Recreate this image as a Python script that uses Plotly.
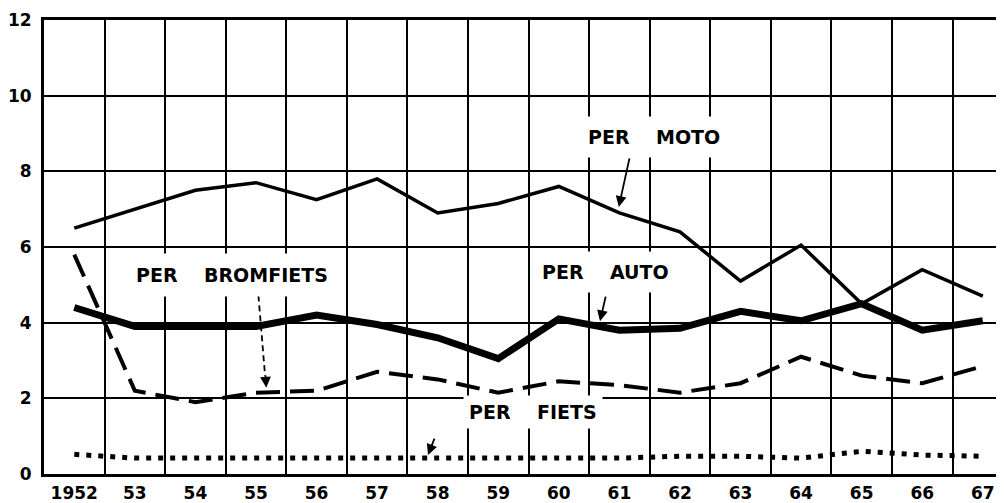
import plotly.graph_objects as go

years = list(range(1952, 1968))
year_labels = ["1952"] + [str(y)[2:] for y in years[1:]]
moto = [6.5, 7.0, 7.5, 7.7, 7.25, 7.8, 6.9, 7.15, 7.6, 6.9, 6.4, 5.1, 6.05, 4.5, 5.4, 4.7]
auto = [4.4, 3.9, 3.9, 3.9, 4.2, 3.95, 3.6, 3.05, 4.1, 3.8, 3.85, 4.3, 4.05, 4.5, 3.8, 4.05]
bromfiets = [5.8, 2.2, 1.9, 2.15, 2.2, 2.7, 2.5, 2.15, 2.45, 2.35, 2.15, 2.4, 3.1, 2.6, 2.4, 2.85]
fiets = [0.52, 0.42, 0.42, 0.42, 0.42, 0.42, 0.42, 0.42, 0.42, 0.42, 0.47, 0.47, 0.42, 0.6, 0.5, 0.47]
grid_years = [y - 0.5 for y in years]
y_ticks = [0, 2, 4, 6, 8, 10, 12]

fig = go.Figure()
fig.add_trace(go.Scatter(x=years, y=fiets, mode="lines",
                         line=dict(color="black", width=5, dash="5px,7px")))
fig.add_trace(go.Scatter(x=years, y=bromfiets, mode="lines",
                         line=dict(color="black", width=4, dash="24px,10px")))
fig.add_trace(go.Scatter(x=years, y=moto, mode="lines",
                         line=dict(color="black", width=3.5)))
fig.add_trace(go.Scatter(x=years, y=auto, mode="lines",
                         line=dict(color="black", width=7)))

font_tick = dict(family="DejaVu Sans", size=17, color="black", weight="bold")
font_lab = dict(family="DejaVu Sans", size=19, color="black")
nb = "\u00a0" * 4

labels = [
    ("<b>PER" + nb + "MOTO</b>", 1961.57, 8.92, 9),
    ("<b>PER" + nb + "BROMFIETS</b>", 1954.6, 5.25, 10),
    ("<b>PER" + nb + "AUTO</b>", 1960.77, 5.35, 9),
    ("<b>PER" + nb + "FIETS</b>", 1959.58, 1.63, 5),
]
for txt, x, y, pad in labels:
    fig.add_annotation(x=x, y=y, text=txt, showarrow=False, font=font_lab,
                       bgcolor="white", borderpad=pad)

arrows = [
    (1960.99, 7.06, 11, -50),
    (1960.68, 4.04, 6, -26),
    (1957.84, 0.5, 7, -18),
    (1955.17, 2.28, -1, -14),
]
for x, y, ax, ay in arrows:
    fig.add_annotation(x=x, y=y, ax=ax, ay=ay, text="", showarrow=True,
                       arrowhead=2, arrowsize=1.2, arrowwidth=1.8, arrowcolor="black")

# dashed shaft of the BROMFIETS arrow
fig.add_shape(type="line", x0=1955.04, y0=4.72, x1=1955.15, y1=2.6,
              line=dict(color="black", width=1.8, dash="6px,4px"))

fig.update_layout(
    width=996, height=495,
    margin=dict(l=35, r=0, t=12, b=26),
    paper_bgcolor="white", plot_bgcolor="white",
    showlegend=False,
    xaxis=dict(range=[1951.5, 1967.35], tickvals=years, ticktext=year_labels,
               showgrid=False, zeroline=False, tickfont=font_tick,
               showline=True, linecolor="black", linewidth=3, mirror=True,
               ticks="", ticklabelstandoff=2,
               minor=dict(tickvals=grid_years, showgrid=True, gridcolor="black",
                          gridwidth=2, ticks="")),
    yaxis=dict(range=[0, 12], tickvals=y_ticks, showgrid=True, gridcolor="black",
               gridwidth=2, zeroline=False, tickfont=font_tick,
               showline=True, linecolor="black", linewidth=3, mirror=False,
               ticks="", ticklabelstandoff=6),
)

fig.write_html("out.html")
